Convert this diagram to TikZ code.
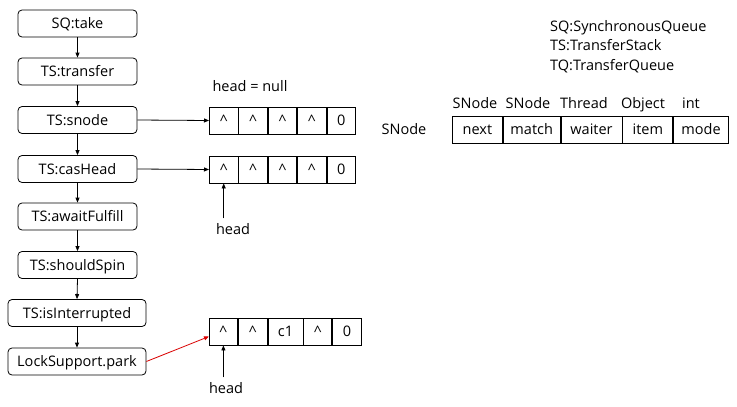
\documentclass[tikz,border=0pt]{standalone}
\usepackage{fontspec}
\setmainfont{Open Sans}
\usetikzlibrary{arrows.meta,calc}
\begin{document}
\begin{tikzpicture}[x=1pt,y=-1pt,
  every node/.style={font=\fontsize{14.5}{17}\selectfont,text height=12.5pt,text depth=2.5pt},
  step box/.style={draw,rounded corners=4pt,line width=0.8pt,minimum height=27pt,inner sep=0pt},
  cell/.style={draw,line width=0.8pt,minimum height=27pt,inner sep=0pt,anchor=west},
  arr/.style={-{Triangle[length=5pt,width=4pt]},line width=0.8pt},
  lbl/.style={inner sep=0pt}]
\useasboundingbox (0,0) rectangle (737,407);
% flow boxes
\node[step box,minimum width=119pt] (s1) at (77.5,23.5) {SQ:take};
\node[step box,minimum width=119pt] (s2) at (77.5,71.5) {TS:transfer};
\node[step box,minimum width=119pt] (s3) at (77.5,120) {TS:snode};
\node[step box,minimum width=119pt] (s4) at (77.5,169) {TS:casHead};
\node[step box,minimum width=119pt] (s5) at (77.5,216.5) {TS:awaitFulfill};
\node[step box,minimum width=119pt] (s6) at (77.5,265) {TS:shouldSpin};
\node[step box,minimum width=138pt] (s7) at (77,313) {TS:isInterrupted};
\node[step box,minimum width=138pt] (s8) at (77,361.5) {LockSupport.park};
\foreach \a/\b in {s1/s2,s2/s3,s3/s4,s4/s5,s5/s6,s6/s7,s7/s8}
  \draw[arr] (\a.south) -- (\b.north);
% array A
\node[lbl] (hn) at (250,86) {head = null};
\node[cell,minimum width=28.6pt] (a1) at (209,120.5) {\textasciicircum};
\node[cell,minimum width=28.6pt] (a2) at (a1.east) {\textasciicircum};
\node[cell,minimum width=28.6pt] (a3) at (a2.east) {\textasciicircum};
\node[cell,minimum width=28.6pt] (a4) at (a3.east) {\textasciicircum};
\node[cell,minimum width=28.6pt] (a5) at (a4.east) {0};
\draw[arr] (s3.east) -- (a1.west);
% array B
\node[cell,minimum width=28.6pt] (b1) at (209,169.5) {\textasciicircum};
\node[cell,minimum width=28.6pt] (b2) at (b1.east) {\textasciicircum};
\node[cell,minimum width=28.6pt] (b3) at (b2.east) {\textasciicircum};
\node[cell,minimum width=28.6pt] (b4) at (b3.east) {\textasciicircum};
\node[cell,minimum width=28.6pt] (b5) at (b4.east) {0};
\draw[arr] (s4.east) -- (b1.west);
\node[lbl] (h1) at (233,229) {head};
\draw[arr] ($(h1.north -| b1.south)+(0,-3)$) -- (b1.south);
% array C
\node[cell,minimum width=28pt] (c1) at (209,331.5) {\textasciicircum};
\node[cell,minimum width=29pt] (c2) at (c1.east) {\textasciicircum};
\node[cell,minimum width=35pt] (c3) at (c2.east) {c1};
\node[cell,minimum width=28pt] (c4) at (c3.east) {\textasciicircum};
\node[cell,minimum width=29pt] (c5) at (c4.east) {0};
\draw[arr,red!85!black] (s8.east) -- ([yshift=-5pt]c1.west);
\node[lbl] (h2) at (226,388) {head};
\draw[arr] ($(h2.north -| c1.south)+(0,-3)$) -- (c1.south);
% legend
\node[lbl,anchor=west] (g1) at (550,26) {SQ:SynchronousQueue};
\node[lbl,anchor=west] (g2) at (550,45.5) {TS:TransferStack};
\node[lbl,anchor=west] (g3) at (550,65) {TQ:TransferQueue};
% SNode table
\node[lbl] (sn) at (404,129.5) {SNode};
\node[cell,minimum width=50pt] (t1) at (452,129.5) {next};
\node[cell,minimum width=57pt] (t2) at (t1.east) {match};
\node[cell,minimum width=61pt] (t3) at (t2.east) {waiter};
\node[cell,minimum width=50pt] (t4) at (t3.east) {item};
\node[cell,minimum width=55pt] (t5) at (t4.east) {mode};
\node[lbl] (y1) at (475,103) {SNode};
\node[lbl] (y2) at (528,103) {SNode};
\node[lbl] (y3) at (584,103) {Thread};
\node[lbl] (y4) at (643,103) {Object};
\node[lbl] (y5) at (691,103) {int};
\end{tikzpicture}
\end{document}
